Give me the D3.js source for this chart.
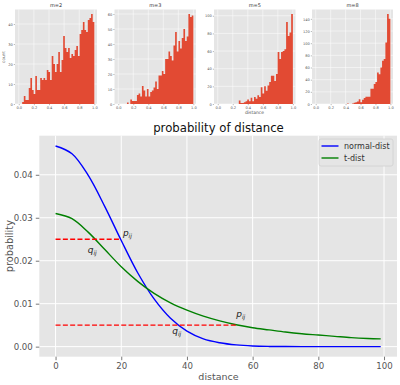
<!DOCTYPE html>
<html>
<head>
<meta charset="utf-8">
<script src="https://cdn.jsdelivr.net/npm/d3@7"></script>
<style>
  body { margin: 0; background: #fff; }
  svg { font-family: "DejaVu Sans", sans-serif; }
</style>
</head>
<body>
<svg width="400" height="385"></svg>
<script>
// histogram counts (bins run from binStart to 1.0)
var m2Counts = [1,4,2,2,8,13,7,5,14,7,7,13,12,13,12,17,16,12,24,20,16,20,26,16,22,34,28,26,28,23,25,24,27,29,24,35,37,41,37,36,42,43,45,41];
var m3Counts = [1,0,3,2,2,2,6,7,5,12,9,5,10,5,8,9,11,15,10,19,19,22,20,30,30,35,32,29,39,48,35,42,37,44,50,42,45,60,58,59];
var m5Counts = [4,1,1,2,3,5,3,7,3,8,6,10,8,19,12,20,15,21,25,32,32,26,34,59,51,59,60,62,93,77,81,102];
var m8Counts = [1,0,0,1,2,3,4,8,3,7,10,12,12,12,25,25,33,36,52,49,60,71,74,101,148,140];
var binStart = [0.045, 0.116, 0.28, 0.42];
var panelNames = ["m=2", "m=3", "m=5", "m=8"];
var panelYTicks = [[0,10,20,30,40],[0,10,20,30,40,50,60],[0,20,40,60,80,100],[0,20,40,60,80,100,120,140]];
var histXTicks = [0, 0.2, 0.4, 0.6, 0.8, 1.0];

// probability curves
var distance = [0,5,10,15,20,25,30,35,40,45,50,55,60,65,70,75,80,85,90,95,99];
var normalDist = [0.0467,0.0449,0.0398,0.0326,0.0247,0.0172,0.0111,0.0066,0.0036,0.0018,0.0009,0.0004,0.00015,0.00005,0.00002,0,0,0,0,0,0];
var tDist = [0.0310,0.0298,0.0266,0.0226,0.0186,0.0152,0.0124,0.0102,0.0085,0.0071,0.0060,0.0051,0.0044,0.0039,0.0034,0.0030,0.0027,0.0024,0.0021,0.0019,0.0018];
var xTicks = [0,20,40,60,80,100];
var yTicks = [0.00,0.01,0.02,0.03,0.04];
// guide lines: [y, x end] and labels [x, y, letter]
var guides = [[0.025, 20], [0.005, 55]];
var markLabels = [[20.5, 0.0258, "p"], [9.8, 0.0218, "q"], [55, 0.0068, "p"], [35.5, 0.0030, "q"]];

var svg = d3.select("svg");
var red = "#E24A33";

// ---- top histograms ----
var boxes = [[15,97],[114.5,196],[214,295.5],[312,393]];
var hTop = 9.5, hBottom = 104;
var allCounts = [m2Counts, m3Counts, m5Counts, m8Counts];

allCounts.forEach(function(counts, p) {
    var g = svg.append("g");
    var x = d3.scaleLinear().domain([-0.05, 1.035]).range(boxes[p]);
    var yMax = d3.max(counts) * 1.05;
    var y = d3.scaleLinear().domain([0, yMax]).range([hBottom, hTop]);

    g.append("rect")
        .attr("x", boxes[p][0]).attr("y", hTop)
        .attr("width", boxes[p][1] - boxes[p][0]).attr("height", hBottom - hTop)
        .attr("fill", "#E5E5E5");

    g.selectAll(".vg").data(histXTicks).enter().append("line")
        .attr("x1", d => x(d)).attr("x2", d => x(d))
        .attr("y1", hTop).attr("y2", hBottom)
        .attr("stroke", "#fff").attr("stroke-width", 0.5);
    g.selectAll(".hg").data(panelYTicks[p]).enter().append("line")
        .attr("x1", boxes[p][0]).attr("x2", boxes[p][1])
        .attr("y1", d => y(d)).attr("y2", d => y(d))
        .attr("stroke", "#fff").attr("stroke-width", 0.5);

    // bins as one stepped shape so no seams show between bars
    var w = (1.0 - binStart[p]) / counts.length;
    var steps = counts.map((c, i) => [binStart[p] + i * w, c]);
    steps.push([1.0, counts[counts.length - 1]]);
    var area = d3.area().curve(d3.curveStepAfter)
        .x(d => x(d[0])).y0(y(0)).y1(d => y(d[1]));
    g.append("path").datum(steps).attr("d", area).attr("fill", red);

    var xa = g.append("g").attr("transform", "translate(0," + hBottom + ")")
        .call(d3.axisBottom(x).tickValues(histXTicks).tickFormat(d3.format(".1f")).tickSize(1.2).tickPadding(1));
    var ya = g.append("g").attr("transform", "translate(" + boxes[p][0] + ",0)")
        .call(d3.axisLeft(y).tickValues(panelYTicks[p]).tickSize(1.2).tickPadding(1));
    [xa, ya].forEach(function(a) {
        a.select(".domain").remove();
        a.selectAll("line").attr("stroke", "#555").attr("stroke-width", 0.4);
        a.selectAll("text").attr("fill", "#555").style("font-size", "3.6px").style("font-family", "DejaVu Sans");
    });

    g.append("text").attr("x", (boxes[p][0] + boxes[p][1]) / 2).attr("y", 7)
        .attr("text-anchor", "middle").attr("fill", "#333")
        .style("font-size", "5px").text(panelNames[p]);
});
svg.append("text").attr("transform", "translate(5,57) rotate(-90)")
    .attr("text-anchor", "middle").attr("fill", "#555").style("font-size", "4.2px").text("count");
svg.append("text").attr("x", 254.5).attr("y", 114)
    .attr("text-anchor", "middle").attr("fill", "#555").style("font-size", "4.5px").text("distance");

// ---- bottom line chart ----
var plotLeft = 39.3, plotRight = 397, plotTop = 135.7, plotBottom = 356.7;
var xScale = d3.scaleLinear().domain([-4.95, 103.95]).range([plotLeft, plotRight]);
var yScale = d3.scaleLinear().domain([-0.00234, 0.0491]).range([plotBottom, plotTop]);

svg.append("rect").attr("x", plotLeft).attr("y", plotTop)
    .attr("width", plotRight - plotLeft).attr("height", plotBottom - plotTop).attr("fill", "#E5E5E5");
svg.selectAll(".xg").data(xTicks).enter().append("line")
    .attr("x1", d => xScale(d)).attr("x2", d => xScale(d))
    .attr("y1", plotTop).attr("y2", plotBottom).attr("stroke", "#fff").attr("stroke-width", 1);
svg.selectAll(".yg").data(yTicks).enter().append("line")
    .attr("x1", plotLeft).attr("x2", plotRight)
    .attr("y1", d => yScale(d)).attr("y2", d => yScale(d)).attr("stroke", "#fff").attr("stroke-width", 1);

var xAxis = svg.append("g").attr("transform", "translate(0," + plotBottom + ")")
    .call(d3.axisBottom(xScale).tickValues(xTicks).tickSize(3.5).tickPadding(3));
var yAxis = svg.append("g").attr("transform", "translate(" + plotLeft + ",0)")
    .call(d3.axisLeft(yScale).tickValues(yTicks).tickFormat(d3.format(".2f")).tickSize(3.5).tickPadding(3));
[xAxis, yAxis].forEach(function(a) {
    a.select(".domain").remove();
    a.selectAll("line").attr("stroke", "#555").attr("stroke-width", 0.8);
    a.selectAll("text").attr("fill", "#555").style("font-size", "8.6px").style("font-family", "DejaVu Sans");
});

var line = d3.line().curve(d3.curveCatmullRom.alpha(0.5))
    .x((d, i) => xScale(distance[i]))
    .y(d => yScale(d));

svg.append("path").datum(normalDist).attr("d", line)
    .attr("fill", "none").attr("stroke", "blue").attr("stroke-width", 1.4);
svg.append("path").datum(tDist).attr("d", line)
    .attr("fill", "none").attr("stroke", "green").attr("stroke-width", 1.4);

svg.selectAll(".guide").data(guides).enter().append("line")
    .attr("x1", xScale(0)).attr("x2", d => xScale(d[1]))
    .attr("y1", d => yScale(d[0])).attr("y2", d => yScale(d[0]))
    .attr("stroke", "red").attr("stroke-width", 1.4).attr("stroke-dasharray", "5,2.3");

markLabels.forEach(function(m) {
    var t = svg.append("text").attr("x", xScale(m[0])).attr("y", yScale(m[1]))
        .attr("fill", "#222").style("font-size", "9px").style("font-style", "italic");
    t.append("tspan").text(m[2]);
    t.append("tspan").attr("dy", 2).style("font-size", "6px").text("ij");
});

svg.append("text").attr("x", 218.5).attr("y", 131.5).attr("text-anchor", "middle")
    .attr("fill", "#111").style("font-size", "11.7px").text("probability of distance");
svg.append("text").attr("x", 218.5).attr("y", 380).attr("text-anchor", "middle")
    .attr("fill", "#555").style("font-size", "9.5px").text("distance");
svg.append("text").attr("transform", "translate(12.5," + ((plotTop + plotBottom) / 2) + ") rotate(-90)")
    .attr("text-anchor", "middle").attr("fill", "#555").style("font-size", "9.8px").text("probability");

// legend
var legend = svg.append("g");
legend.append("rect").attr("x", 319).attr("y", 139).attr("width", 74).attr("height", 27)
    .attr("rx", 2).attr("fill", "#E5E5E5").attr("stroke", "#d0d0d0").attr("stroke-width", 0.8);
[["normal-dist", "blue"], ["t-dist", "green"]].forEach(function(e, i) {
    var ly = 146 + i * 12;
    legend.append("line").attr("x1", 321.5).attr("x2", 338.5).attr("y1", ly).attr("y2", ly)
        .attr("stroke", e[1]).attr("stroke-width", 1.4);
    legend.append("text").attr("x", 344).attr("y", ly + 2.9).attr("fill", "#333")
        .style("font-size", "8px").text(e[0]);
});
</script>
</body>
</html>
